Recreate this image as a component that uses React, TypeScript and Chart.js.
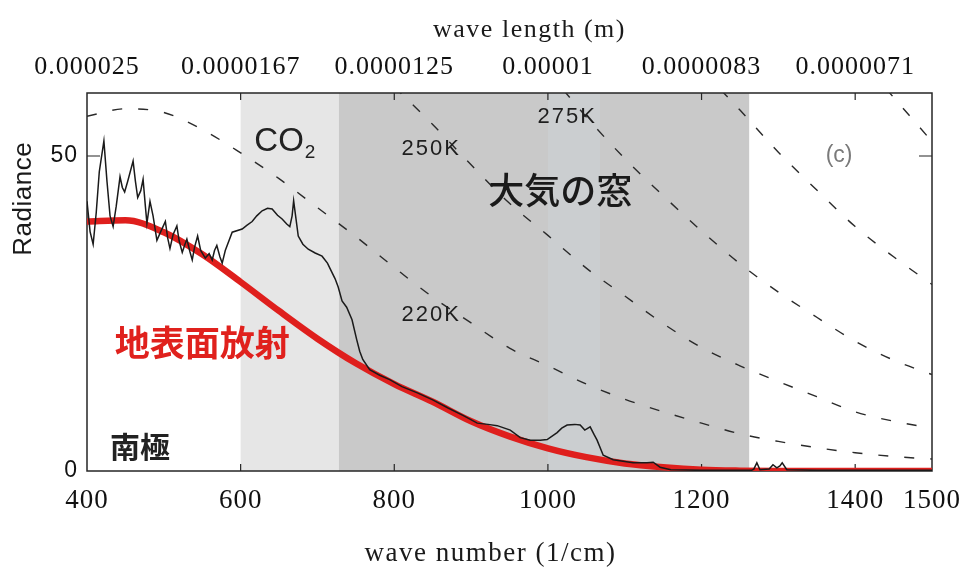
import React, { useEffect, useRef } from 'react';
import { Chart, registerables } from 'chart.js';

Chart.register(...registerables);

// Wavenumber axis (1/cm) and the matching wave-length labels on the top axis
const wavenumberTicks = [400, 600, 800, 1000, 1200, 1400, 1500];
const wavelengthTickValues = [400, 600, 800, 1000, 1200, 1400];
const wavelengthLabels = ['0.000025', '0.0000167', '0.0000125', '0.00001', '0.0000083', '0.0000071'];
const radianceTicks = [0, 50];

// Shaded spectral bands (1/cm)
const co2Band = [600, 728];
const windowBand = [728, 1262];
const ozoneBand = [1000, 1068];

// Observed radiance spectrum at the South Pole
const spectrumNu = [
  400, 404, 408, 412, 416, 422, 426, 430, 434, 438,
  443, 446, 449, 453, 460, 463, 466, 470, 473, 476,
  478, 482, 486, 491, 496, 502, 505, 508, 512, 517,
  520, 524, 527, 530, 534, 537, 540, 544, 548, 554,
  559, 563, 566, 569, 573, 576, 580, 589, 602, 608,
  615, 621, 628, 635, 641, 648, 654, 660, 664, 667,
  669, 671, 675, 681, 688, 697, 706, 713, 719, 723,
  727, 732, 738, 745, 751, 755, 759, 768, 781, 794,
  810, 830, 850, 870, 890, 908, 922, 934, 951, 964,
  977, 990, 999, 1005, 1012, 1018, 1025, 1035, 1042, 1048,
  1055, 1060, 1064, 1072, 1085, 1100, 1111, 1129, 1137, 1146,
  1160, 1200, 1265, 1268, 1272, 1276, 1288, 1293, 1298, 1302,
  1305, 1311, 1350, 1400, 1450, 1500,
];
const spectrumRad = [
  42.8, 38.0, 36.0, 41.0, 47.5, 52.4, 46.0, 40.5, 38.8, 42.0,
  46.7, 45.0, 44.3, 46.0, 49.2, 46.0, 43.4, 44.5, 46.3, 42.0,
  39.3, 42.8, 40.5, 36.6, 38.0, 39.6, 37.0, 35.3, 37.5, 38.9,
  36.5, 34.7, 35.8, 36.8, 34.8, 33.5, 35.5, 37.3, 35.0, 33.8,
  34.5, 33.5, 35.0, 35.8, 34.0, 33.0, 35.0, 37.9, 38.4, 39.0,
  39.6, 40.5, 41.3, 41.7, 41.6, 40.6, 40.0, 39.2, 38.8, 40.5,
  42.9, 41.0, 37.3, 36.0, 35.2, 34.6, 34.1, 33.0, 31.5, 30.5,
  29.2, 27.0, 26.0, 24.0, 20.9, 19.0, 17.7, 16.1, 15.2, 14.5,
  13.4, 12.4, 11.3, 10.0, 8.8, 7.6, 7.4, 7.2, 6.5, 5.3,
  4.9, 4.9, 5.0, 5.5, 6.1, 6.8, 7.3, 7.4, 7.3, 6.5,
  7.0, 5.8, 4.9, 2.5, 1.8, 1.5, 1.3, 1.3, 1.4, 0.6,
  0.2, 0.1, 0.1, 0.3, 1.3, 0.2, 0.3, 1.0, 0.5, 0.8,
  1.3, 0.2, 0.1, 0.1, 0.1, 0.1,
];

// Surface emission
const surfaceNu = [400, 450, 500, 550, 600, 650, 700, 750, 800, 850, 900, 950, 1000, 1050, 1100, 1150, 1200, 1250, 1300, 1400, 1500];
const surfaceRad = [39.6, 39.8, 37.9, 34.4, 30.0, 25.4, 21.0, 17.1, 13.8, 11.0, 7.9, 5.5, 3.6, 2.2, 1.2, 0.6, 0.2, 0.05, 0, 0, 0];

// Blackbody reference curves
const bb220Nu = [400, 450, 500, 550, 600, 650, 700, 750, 800, 850, 900, 950, 1000, 1050, 1100, 1150, 1200, 1250, 1300, 1350, 1400, 1450, 1500];
const bb220Rad = [56.3, 57.5, 56.9, 54.2, 50.5, 46.4, 41.8, 37.2, 32.3, 27.6, 23.5, 19.5, 16.7, 13.8, 11.4, 9.4, 7.6, 5.9, 4.7, 3.7, 2.9, 2.3, 1.9];
const bb250Nu = [800, 850, 900, 950, 1000, 1050, 1100, 1150, 1200, 1250, 1300, 1350, 1400, 1450, 1500];
const bb250Rad = [61.0, 55.0, 48.6, 42.5, 37.4, 32.2, 27.8, 23.4, 19.6, 16.7, 14.2, 11.8, 9.4, 7.9, 6.8];
const bb275Nu = [1020, 1050, 1100, 1150, 1200, 1250, 1300, 1350, 1400, 1450, 1500];
const bb275Rad = [60.5, 56.2, 49.6, 43.7, 38.1, 32.9, 28.4, 24.4, 20.6, 17.6, 15.3];
const bb300Nu = [1225, 1250, 1300, 1350, 1400, 1450, 1500];
const bb300Rad = [60.5, 57.3, 50.6, 44.6, 38.8, 34.0, 29.6];
const bb325Nu = [1440, 1470, 1500];
const bb325Rad = [60.7, 56.5, 52.3];

const SERIF = '"Liberation Serif", "Times New Roman", serif';
const SANS = '"Liberation Sans", Arial, sans-serif';
const CJK = '"Noto Sans CJK JP", sans-serif';

type Note = { text: string; nu: number; rad: number; font: string; color: string; spacing: string };

// Text placed in data coordinates
const notes: Note[] = [
  { text: '大気の窓', nu: 1016, rad: 44.6, font: `500 36px ${CJK}`, color: '#1a1a1a', spacing: '0px' },
  { text: '地表面放射', nu: 550, rad: 20.4, font: `bold 35px ${CJK}`, color: '#e0211d', spacing: '0px' },
  { text: '南極', nu: 469, rad: 3.8, font: `bold 30px ${CJK}`, color: '#222222', spacing: '0px' },
  { text: '250K', nu: 848, rad: 51.1, font: `22px ${SANS}`, color: '#1e1e1e', spacing: '2px' },
  { text: '275K', nu: 1025, rad: 56.2, font: `22px ${SANS}`, color: '#1e1e1e', spacing: '2px' },
  { text: '220K', nu: 848, rad: 24.8, font: `22px ${SANS}`, color: '#1e1e1e', spacing: '2px' },
  { text: '(c)', nu: 1379, rad: 50, font: `23px ${SANS}`, color: '#7a7a7a', spacing: '0px' },
];

const toPoints = (xs: number[], ys: number[]) => xs.map((v, i) => ({ x: v, y: ys[i] }));

const decor = {
  id: 'decor',
  beforeDraw(chart: any) {
    chart.ctx.letterSpacing = '1px';
  },
  beforeDatasetsDraw(chart: any) {
    const { ctx, chartArea: a } = chart;
    const x = chart.scales.x;
    const y = chart.scales.y;
    ctx.save();
    const shade = (band: number[], color: string) => {
      const x0 = x.getPixelForValue(band[0]);
      const x1 = x.getPixelForValue(band[1]);
      ctx.fillStyle = color;
      ctx.fillRect(x0, a.top, x1 - x0, a.bottom - a.top);
    };
    shade(co2Band, '#e6e6e6');
    shade(windowBand, '#c9c9c9');
    shade(ozoneBand, '#cbced0');

    ctx.strokeStyle = '#262626';
    ctx.lineWidth = 1.5;
    ctx.strokeRect(a.left, a.top, a.right - a.left, a.bottom - a.top);

    ctx.lineWidth = 1.2;
    ctx.beginPath();
    for (const v of wavenumberTicks) {
      if (v <= x.min || v >= x.max) continue;
      const px = x.getPixelForValue(v);
      ctx.moveTo(px, a.bottom);
      ctx.lineTo(px, a.bottom - 7);
      ctx.moveTo(px, a.top);
      ctx.lineTo(px, a.top + 7);
    }
    for (const v of radianceTicks) {
      if (v <= y.min || v >= y.max) continue;
      const py = y.getPixelForValue(v);
      ctx.moveTo(a.left, py);
      ctx.lineTo(a.left + 13, py);
      ctx.moveTo(a.right, py);
      ctx.lineTo(a.right - 13, py);
    }
    ctx.stroke();
    ctx.restore();
  },
  afterDatasetsDraw(chart: any) {
    const { ctx, chartArea: a } = chart;
    const x = chart.scales.x;
    const y = chart.scales.y;
    ctx.save();
    ctx.textAlign = 'center';
    ctx.textBaseline = 'middle';
    for (const n of notes) {
      ctx.font = n.font;
      ctx.fillStyle = n.color;
      ctx.letterSpacing = n.spacing;
      ctx.fillText(n.text, x.getPixelForValue(n.nu), y.getPixelForValue(n.rad));
    }

    // CO2 with subscript
    ctx.letterSpacing = '0px';
    ctx.fillStyle = '#222222';
    ctx.textBaseline = 'alphabetic';
    ctx.font = `33px ${SANS}`;
    const cx = x.getPixelForValue(650);
    const cy = y.getPixelForValue(50.8);
    const w = ctx.measureText('CO').width;
    ctx.fillText('CO', cx, cy);
    ctx.textAlign = 'left';
    ctx.font = `19px ${SANS}`;
    ctx.fillText('2', cx + w / 2 + 1, cy + 7);

    // axis titles
    const mid = (a.left + a.right) / 2;
    ctx.textAlign = 'center';
    ctx.fillStyle = '#1a1a1a';
    ctx.font = `26px ${SERIF}`;
    ctx.letterSpacing = '1.5px';
    ctx.fillText('wave length (m)', mid + 20, a.top - 56);
    ctx.font = `27px ${SERIF}`;
    ctx.fillText('wave number (1/cm)', mid - 19, a.bottom + 90);

    ctx.letterSpacing = '0.5px';
    ctx.font = `26px ${SANS}`;
    ctx.textBaseline = 'middle';
    ctx.translate(24, y.getPixelForValue(43.2));
    ctx.rotate(-Math.PI / 2);
    ctx.fillText('Radiance', 0, 0);
    ctx.restore();
  },
};

export default function App() {
  const ref = useRef<HTMLCanvasElement>(null);

  useEffect(() => {
    const dashed = (xs: number[], ys: number[], label: string) => ({
      label,
      data: toPoints(xs, ys),
      borderColor: '#2a2a2a',
      borderWidth: 1.4,
      borderDash: [10, 16],
      pointRadius: 0,
      cubicInterpolationMode: 'monotone' as const,
    });

    const chart = new Chart(ref.current as HTMLCanvasElement, {
      type: 'line',
      data: {
        datasets: [
          {
            label: '南極',
            data: toPoints(spectrumNu, spectrumRad),
            borderColor: '#1a1a1a',
            borderWidth: 1.5,
            pointRadius: 0,
            tension: 0,
          },
          {
            label: '地表面放射',
            data: toPoints(surfaceNu, surfaceRad),
            borderColor: '#df1f1d',
            borderWidth: 6.5,
            pointRadius: 0,
            cubicInterpolationMode: 'monotone',
          },
          dashed(bb220Nu, bb220Rad, '220K'),
          dashed(bb250Nu, bb250Rad, '250K'),
          dashed(bb275Nu, bb275Rad, '275K'),
          dashed(bb300Nu, bb300Rad, '300K'),
          dashed(bb325Nu, bb325Rad, '325K'),
        ],
      },
      options: {
        animation: false,
        responsive: true,
        maintainAspectRatio: false,
        layout: { padding: { top: 0, left: 0, bottom: 0, right: 27 }, autoPadding: false },
        plugins: { legend: { display: false }, tooltip: { enabled: false } },
        scales: {
          x: {
            type: 'linear',
            position: 'bottom',
            min: 400,
            max: 1500,
            grid: { display: false, drawTicks: false },
            border: { display: false },
            ticks: {
              autoSkip: false,
              maxRotation: 0,
              minRotation: 0,
              padding: 14,
              color: '#111111',
              font: { family: SERIF, size: 27 },
              callback: (v: any) => String(v),
            },
            afterBuildTicks: (s: any) => {
              s.ticks = wavenumberTicks.map((v) => ({ value: v }));
            },
            afterFit: (s: any) => {
              s.height = 96;
              s.paddingLeft = 0;
              s.paddingRight = 0;
            },
          },
          x2: {
            type: 'linear',
            axis: 'x',
            position: 'top',
            min: 400,
            max: 1500,
            grid: { display: false, drawTicks: false },
            border: { display: false },
            ticks: {
              autoSkip: false,
              maxRotation: 0,
              minRotation: 0,
              padding: 10,
              color: '#111111',
              font: { family: SERIF, size: 26 },
              callback: (v: any) => {
                const i = wavelengthTickValues.indexOf(Number(v));
                return i >= 0 ? wavelengthLabels[i] : '';
              },
            },
            afterBuildTicks: (s: any) => {
              s.ticks = wavelengthTickValues.map((v) => ({ value: v }));
            },
            afterFit: (s: any) => {
              s.height = 93;
              s.paddingLeft = 0;
              s.paddingRight = 0;
            },
          },
          y: {
            type: 'linear',
            position: 'left',
            min: 0,
            max: 60,
            grid: { display: false, drawTicks: false },
            border: { display: false },
            ticks: {
              padding: 9,
              color: '#111111',
              font: { family: SANS, size: 23 },
            },
            afterBuildTicks: (s: any) => {
              s.ticks = radianceTicks.map((v) => ({ value: v }));
            },
            afterFit: (s: any) => {
              s.width = 87;
              s.paddingTop = 0;
              s.paddingBottom = 0;
            },
          },
        },
      } as any,
      plugins: [decor],
    });
    return () => chart.destroy();
  }, []);

  return (
    <div style={{ position: 'fixed', left: 0, top: 0, width: 959, height: 567, background: '#ffffff' }}>
      <canvas ref={ref} />
    </div>
  );
}
